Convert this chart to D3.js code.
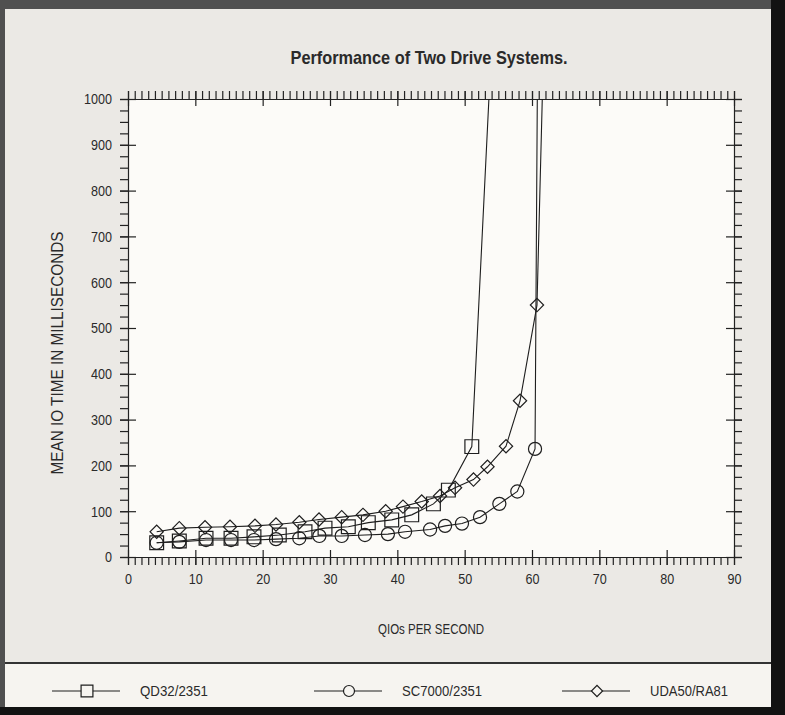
<!doctype html>
<meta charset="utf-8">
<style type="text/css">
  body { margin: 0; background: #111; }
  svg { display: block; }
  text { font-family: "Liberation Sans", Arial, sans-serif; fill: #2a2a2a; }
  .axis path, .axis line { stroke: #222; stroke-width: 1.2; }
  .series { fill: none; stroke: #1e1e1e; stroke-width: 1.1; }
  .marker { fill: none; stroke: #1e1e1e; stroke-width: 1.2; }
</style>
<body>
<script src="https://d3js.org/d3.v7.min.js"></script>
<script>

// series (QIOs per second, mean IO time in ms)
// the last point of each series is above 1000 and gets clipped, like the original
let qdX = [4.26, 7.62, 11.59, 15.3, 18.71, 22.47, 26.29, 29.26, 32.72, 35.69, 39.17, 42.14, 45.36, 47.58, 51.06, 54.0];
let qdY = [31, 35, 41, 41, 44, 48, 55, 63, 66, 75, 81, 92, 116, 146, 241, 1120];

let scX = [4.26, 7.62, 11.59, 15.3, 18.71, 21.98, 25.44, 28.42, 31.74, 35.19, 38.6, 41.15, 44.86, 47.09, 49.6, 52.28, 55.15, 57.82, 60.45, 60.83];
let scY = [31, 33, 37, 37, 37, 39, 41, 46, 46, 48, 50, 55, 60, 68, 73, 87, 116, 143, 236, 1100];

let udaX = [4.26, 7.62, 11.44, 15.15, 18.86, 21.98, 25.44, 28.37, 31.74, 34.9, 38.27, 40.84, 43.62, 46.34, 48.57, 51.31, 53.39, 56.14, 58.22, 60.74, 61.7];
let udaY = [55, 63, 65, 66, 68, 71, 76, 82, 87, 92, 100, 110, 121, 133, 151, 169, 197, 242, 341, 550, 1100];

let seriesNames = ["QD32/2351", "SC7000/2351", "UDA50/RA81"];
let seriesShapes = ["square", "circle", "diamond"];

let xMajor = d3.range(0, 91, 10);
let xMinor = d3.range(0, 91, 1);
let yMajor = d3.range(0, 1001, 100);
let yMinor = d3.range(0, 1001, 25);

let width = 785,
    height = 715;

let plot = {left: 128, right: 734, top: 99, bottom: 557};
let legendTop = 663;

let svg = d3.select('body')
    .append('svg')
    .attr('width', width)
    .attr('height', height);

// photographed page: dark edges, grey panel, whiter plot and legend
svg.append('rect').attr('width', width).attr('height', height).attr('fill', '#505050');
svg.append('rect').attr('x', 771).attr('width', 14).attr('height', height).attr('fill', '#121212');
svg.append('rect').attr('y', 707).attr('width', width).attr('height', 8).attr('fill', '#121212');
svg.append('rect').attr('x', 5).attr('y', 9).attr('width', 766).attr('height', 698).attr('fill', '#ebe9e5');
svg.append('rect').attr('x', 5).attr('y', legendTop).attr('width', 766).attr('height', 707 - legendTop).attr('fill', '#f6f4f0');
svg.append('line').attr('x1', 5).attr('x2', 771).attr('y1', legendTop).attr('y2', legendTop)
    .attr('stroke', '#333').attr('stroke-width', 2);
svg.append('rect')
    .attr('x', plot.left).attr('y', plot.top)
    .attr('width', plot.right - plot.left).attr('height', plot.bottom - plot.top)
    .attr('fill', '#fcfbf8');

let x = d3.scaleLinear().domain([0, 90]).range([plot.left, plot.right]);
let y = d3.scaleLinear().domain([0, 1000]).range([plot.bottom, plot.top]);

// condensed look: squeeze every text to the width it has in the original
function squeeze(sel, perChar) {
  sel.attr('textLength', function() { return this.textContent.length * perChar; })
     .attr('lengthAdjust', 'spacingAndGlyphs');
}

// minor ticks point outwards, major ticks cross the frame
function drawAxis(axisFn, scale, pos, transform, labels) {
  let minor = svg.append('g').attr('class', 'axis').attr('transform', transform)
      .call(axisFn(scale).tickValues(pos.minor).tickSize(8).tickFormat(''));
  minor.select('.domain').remove();
  let major = svg.append('g').attr('class', 'axis').attr('transform', transform)
      .call(axisFn(scale).tickValues(pos.major).tickSize(8).tickSizeOuter(0).tickPadding(8)
        .tickFormat(labels ? d3.format('d') : ''));
  major.selectAll('.tick line').each(function() {
    let l = d3.select(this);
    if (l.attr('y2') != null && +l.attr('y2') !== 0) l.attr('y1', -Math.sign(+l.attr('y2')) * 7);
    if (l.attr('x2') != null && +l.attr('x2') !== 0) l.attr('x1', -Math.sign(+l.attr('x2')) * 8);
  });
  major.selectAll('text').style('font-size', '15px').attr('fill', '#2a2a2a').call(squeeze, 7);
  return major;
}

drawAxis(d3.axisBottom, x, {minor: xMinor, major: xMajor}, 'translate(0,' + plot.bottom + ')', true);
drawAxis(d3.axisTop, x, {minor: xMinor, major: xMajor}, 'translate(0,' + plot.top + ')', false);
drawAxis(d3.axisLeft, y, {minor: yMinor, major: yMajor}, 'translate(' + plot.left + ',0)', true);
drawAxis(d3.axisRight, y, {minor: yMinor, major: yMajor}, 'translate(' + plot.right + ',0)', false);

// titles
svg.append('text')
    .attr('x', 429).attr('y', 64)
    .attr('text-anchor', 'middle')
    .attr('textLength', 277).attr('lengthAdjust', 'spacingAndGlyphs')
    .style('font-size', '19px').style('font-weight', 'bold')
    .attr('fill', '#1c1c1c')
    .text('Performance of Two Drive Systems.');

svg.append('text')
    .attr('transform', 'translate(63,353) rotate(-90)')
    .attr('text-anchor', 'middle')
    .attr('textLength', 243).attr('lengthAdjust', 'spacingAndGlyphs')
    .style('font-size', '16px')
    .text('MEAN IO TIME IN MILLISECONDS');

svg.append('text')
    .attr('x', 431).attr('y', 634)
    .attr('text-anchor', 'middle')
    .attr('textLength', 106).attr('lengthAdjust', 'spacingAndGlyphs')
    .style('font-size', '15px')
    .text('QIOs PER SECOND');

// series
svg.append('defs').append('clipPath').attr('id', 'clip')
  .append('rect')
    .attr('x', plot.left).attr('y', plot.top)
    .attr('width', plot.right - plot.left).attr('height', plot.bottom - plot.top);

let shapes = {
  square: {sym: d3.symbol().type(d3.symbolSquare).size(190), rot: 0},
  circle: {sym: d3.symbol().type(d3.symbolCircle).size(135), rot: 0},
  diamond: {sym: d3.symbol().type(d3.symbolSquare).size(88), rot: 45}
};

let series = [
  d3.zip(qdX, qdY),
  d3.zip(scX, scY),
  d3.zip(udaX, udaY)
];

let line = d3.line().x(d => x(d[0])).y(d => y(d[1]));

let g = svg.append('g').attr('clip-path', 'url(#clip)');

series.forEach(function(pts, i) {
  let shape = shapes[seriesShapes[i]];
  g.append('path').datum(pts).attr('class', 'series').attr('d', line);
  g.selectAll('.m' + i)
      .data(pts.filter(d => d[1] <= 1000))
    .enter().append('path')
      .attr('class', 'marker m' + i)
      .attr('transform', d => 'translate(' + x(d[0]) + ',' + y(d[1]) + ') rotate(' + shape.rot + ')')
      .attr('d', shape.sym);
});

// legend
let legendX = [52, 314, 562];
let legendLen = [68, 80, 78];
let legendSize = {square: 140, circle: 95, diamond: 62};

let legend = svg.selectAll('.legend')
    .data(seriesNames)
  .enter().append('g')
    .attr('class', 'legend')
    .attr('transform', (d, i) => 'translate(' + legendX[i] + ',' + (legendTop + 28) + ')');

legend.append('line')
    .attr('x1', 0).attr('x2', 68)
    .attr('stroke', '#1e1e1e').attr('stroke-width', 1.2);
legend.append('path')
    .attr('transform', (d, i) => 'translate(35,0) rotate(' + shapes[seriesShapes[i]].rot + ')')
    .attr('d', (d, i) => shapes[seriesShapes[i]].sym.size(legendSize[seriesShapes[i]])())
    .attr('fill', '#f6f4f0').attr('stroke', '#1e1e1e').attr('stroke-width', 1.2);
legend.append('text')
    .attr('x', 88).attr('y', 5)
    .attr('textLength', (d, i) => legendLen[i]).attr('lengthAdjust', 'spacingAndGlyphs')
    .style('font-size', '15px')
    .text(d => d);

</script>
